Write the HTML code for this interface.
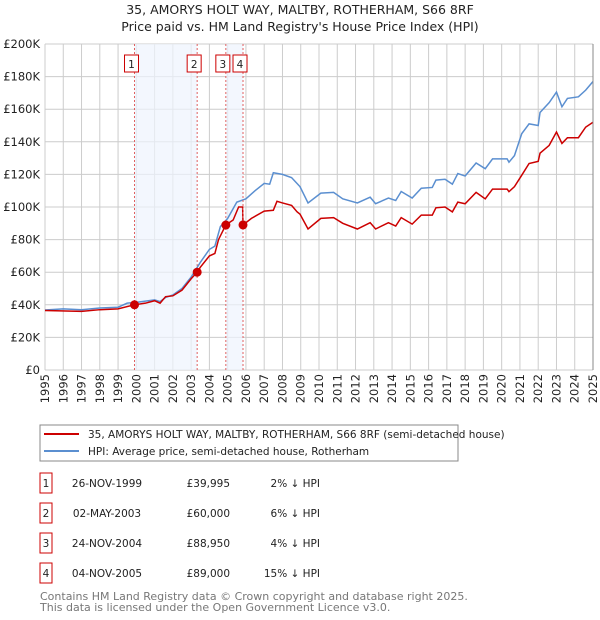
<!DOCTYPE html>
<html><head><meta charset="utf-8"><style>
body{margin:0;background:#fff;font-family:"Liberation Sans","DejaVu Sans",sans-serif;}
#wrap{position:relative;width:600px;height:620px;overflow:hidden}
</style></head><body><div id="wrap">
<svg id="svg" width="600" height="620" xmlns="http://www.w3.org/2000/svg" font-family="DejaVu Sans, Liberation Sans, sans-serif">
<text x="300" y="14" text-anchor="middle" font-size="12.5" fill="#222">35, AMORYS HOLT WAY, MALTBY, ROTHERHAM, S66 8RF</text>
<text x="300" y="31" text-anchor="middle" font-size="12.5" fill="#222">Price paid vs. HM Land Registry's House Price Index (HPI)</text>
<g id="grid"></g><g id="shade"></g><g id="lines"></g><g id="marks"></g><g id="axes"></g>
<rect x="40" y="425" width="418" height="36" fill="#fff" stroke="#888"/>
<line x1="44" y1="434" x2="79" y2="434" stroke="#cc0000" stroke-width="2"/>
<text x="88" y="438" font-size="10.5" fill="#222">35, AMORYS HOLT WAY, MALTBY, ROTHERHAM, S66 8RF (semi-detached house)</text>
<line x1="44" y1="451" x2="79" y2="451" stroke="#5b8fd0" stroke-width="2"/>
<text x="88" y="455" font-size="10.5" fill="#222">HPI: Average price, semi-detached house, Rotherham</text>
<g id="table" font-size="10.5" fill="#222"></g>
<text x="40" y="600" font-size="11" fill="#777">Contains HM Land Registry data © Crown copyright and database right 2025.</text>
<text x="40" y="611" font-size="11" fill="#777">This data is licensed under the Open Government Licence v3.0.</text>
</svg></div>
<script>
const yTicks=[0,20,40,60,80,100,120,140,160,180,200];
const yTickLabels=["£0","£20K","£40K","£60K","£80K","£100K","£120K","£140K","£160K","£180K","£200K"];
const hpiYears=[1995,1996,1997,1998,1999,1999.5,2000,2001,2001.3,2001.6,2002,2002.5,2003,2003.5,2004,2004.3,2004.6,2005,2005.5,2006,2006.5,2007,2007.3,2007.5,2008,2008.5,2008.96,2009.4,2010.1,2010.8,2011.3,2012.1,2012.8,2013.1,2013.8,2014.2,2014.5,2015.1,2015.6,2016.2,2016.4,2016.9,2017.3,2017.6,2018.0,2018.6,2019.1,2019.5,2020.3,2020.4,2020.7,2021.1,2021.5,2022.0,2022.1,2022.6,2023.0,2023.3,2023.6,2024.2,2024.6,2025.0];
const hpiValues=[36.8,37.5,37,38,38.5,41,41.5,43,42,44.5,46,50,57,66,74,76,88,93,103,105,110,114.5,114,121,120,118,112.5,102.5,108.5,109,105,102.5,106,102,105.5,104,109.5,105.5,111.5,112,116.5,117,114,120.5,119,127,123.5,129.5,129.5,127.5,131.5,145,151,150,158,164,170.5,161.5,166.6,167.6,171.7,177];
const priceYears=[1995,1997,1998,1999,1999.9,2000.5,2001,2001.3,2001.6,2002,2002.5,2003,2003.33,2003.5,2004,2004.3,2004.5,2004.9,2005.3,2005.6,2005.82,2005.84,2006.3,2007,2007.5,2007.7,2008,2008.5,2008.8,2008.96,2009.4,2010.1,2010.8,2011.3,2012.1,2012.8,2013.1,2013.8,2014.2,2014.5,2015.1,2015.6,2016.2,2016.4,2016.9,2017.3,2017.6,2018.0,2018.6,2019.1,2019.5,2020.3,2020.4,2020.7,2021.1,2021.5,2022.0,2022.1,2022.6,2023.0,2023.3,2023.6,2024.2,2024.6,2025.0];
const priceValues=[36.5,36,37,37.5,40,41,42.5,41,45,45.5,49,56,60,63,70,71.5,80,89,92,100,100,89,93,97.5,98,103.5,102.5,101,97,95.6,86.5,93,93.5,90,86.5,90.4,86.5,90.4,88.3,93.5,89.5,95,95,99.5,100,97,103,102,109,105,111,111,109.4,112.5,119.5,126.7,128,133,137.8,146,139,142.5,142.5,149,152];
const saleYears=[1999.9,2003.33,2004.9,2005.84];
const saleValues=[39.995,60,88.95,89];
const saleLabels=["1","2","3","4"];
const saleDates=["26-NOV-1999","02-MAY-2003","24-NOV-2004","04-NOV-2005"];
const salePrices=["£39,995","£60,000","£88,950","£89,000"];
const saleHpi=["2% ↓ HPI","6% ↓ HPI","4% ↓ HPI","15% ↓ HPI"];
const xTickYears=[];for(let y=1995;y<=2025;y++)xTickYears.push(y);

const NS="http://www.w3.org/2000/svg";
const X0=45,X1=593,Y0=370,Y1=44;
const xs=y=>X0+(y-1995)/30*(X1-X0);
const ys=v=>Y0-v/200*(Y0-Y1);
function mk(tag,attrs,parent,text){const e=document.createElementNS(NS,tag);for(const k in attrs)e.setAttribute(k,attrs[k]);if(text!==undefined)e.textContent=text;document.getElementById(parent).appendChild(e);return e;}
[[0,1],[2,3]].forEach((p,i)=>{const r=mk('rect',{x:xs(saleYears[p[0]]),y:Y1,width:xs(saleYears[p[1]])-xs(saleYears[p[0]]),height:Y0-Y1,fill:'#eef3fd',opacity:0.7},'shade');

});
xTickYears.forEach(y=>{const l=mk('line',{x1:xs(y),x2:xs(y),y1:Y1,y2:Y0,stroke:'#ccc','stroke-width':1},'grid');


const t=mk('text',{x:0,y:0,transform:`translate(${xs(y)+4},${Y0+4}) rotate(-90)`,'text-anchor':'end','font-size':11.5,fill:'#222'},'axes',String(y));

});
yTicks.forEach((v,i)=>{const l=mk('line',{x1:X0,x2:X1,y1:ys(v),y2:ys(v),stroke:'#ccc','stroke-width':1},'grid');


const t=mk('text',{x:40,y:ys(v)+4,'text-anchor':'end','font-size':11.5,fill:'#222'},'axes',yTickLabels[i]);

});
const hp=mk('polyline',{points:hpiYears.map((y,i)=>xs(y)+','+ys(hpiValues[i])).join(' '),fill:'none',stroke:'#5b8fd0','stroke-width':1.5},'lines');


const pp=mk('polyline',{points:priceYears.map((y,i)=>xs(y)+','+ys(priceValues[i])).join(' '),fill:'none',stroke:'#cc0000','stroke-width':1.5},'lines');


saleYears.forEach((y,i)=>{const x=xs(y);
const l=mk('line',{x1:x,x2:x,y1:Y1,y2:Y0,stroke:'#e06060','stroke-dasharray':'2,2','stroke-width':1},'marks');


const b=mk('rect',{x:x-10,y:55,width:14,height:17,fill:'#fff',stroke:'#cc0000'},'marks');


const t=mk('text',{x:x-3,y:68,'text-anchor':'middle','font-size':10.5,fill:'#222'},'marks',saleLabels[i]);


const c=mk('circle',{cx:x,cy:ys(saleValues[i]),r:4.5,fill:'#cc0000'},'marks');


const ty=487+i*30;
const tb=mk('rect',{x:40,y:ty-14,width:12,height:20,fill:'#fff',stroke:'#cc0000'},'table');


const tn=mk('text',{x:46,y:ty,'text-anchor':'middle'},'table',saleLabels[i]);


const td=mk('text',{x:107,y:ty,'text-anchor':'middle'},'table',saleDates[i]);


const tp=mk('text',{x:230,y:ty,'text-anchor':'end'},'table',salePrices[i]);


const th=mk('text',{x:320,y:ty,'text-anchor':'end'},'table',saleHpi[i]);


});
const ax=mk('line',{x1:X1,x2:X1,y1:Y1,y2:Y0,stroke:'#888'},'axes');


</script></body></html>
